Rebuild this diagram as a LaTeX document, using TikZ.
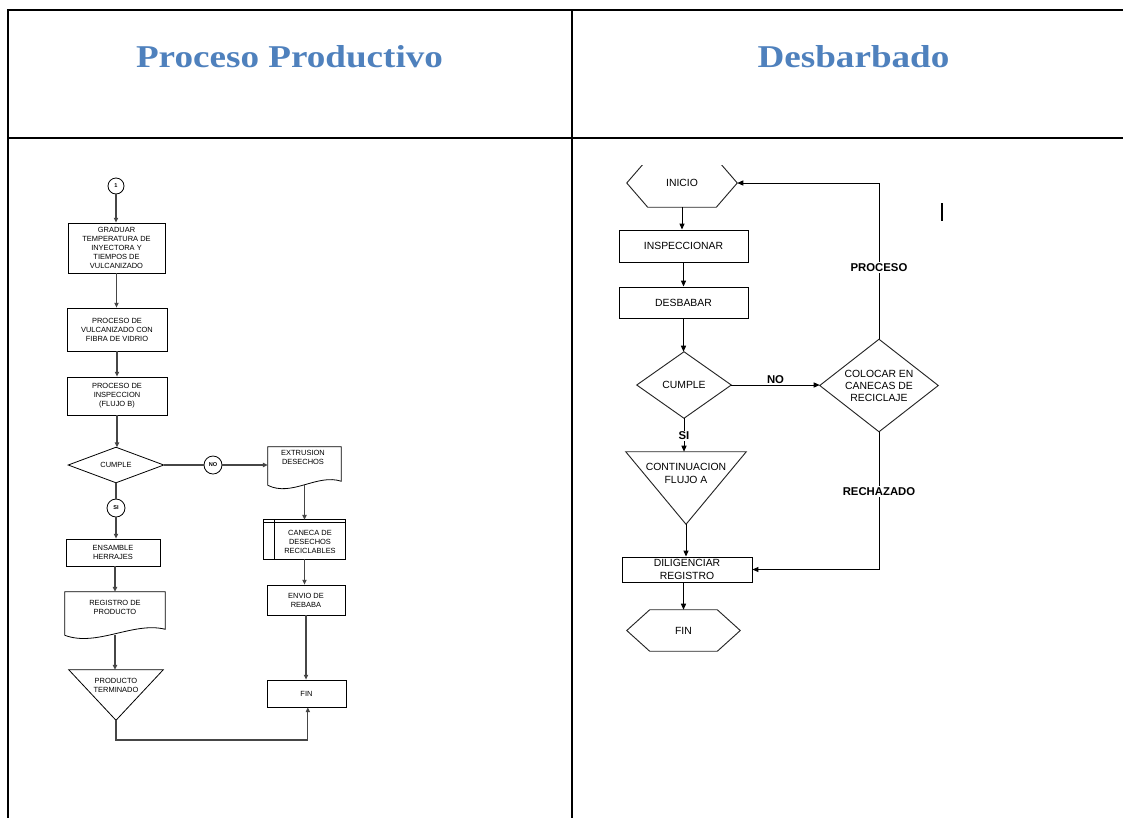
\documentclass[tikz,border=0pt]{standalone}
\usepackage{fontspec}
\setmainfont{Liberation Sans}
\newfontfamily\headfont{Liberation Serif}
\usetikzlibrary{arrows.meta,calc}
\definecolor{headblue}{RGB}{79,129,189}
\definecolor{linegray}{RGB}{70,70,70}
\begin{document}
\begin{tikzpicture}[x=0.75pt,y=-0.75pt,
  head/.style={inner sep=0pt,text=headblue,font=\headfont\bfseries\fontsize{23.8}{28}\selectfont},
  lfont/.style={font=\fontsize{5.6}{6.75}\selectfont},
  lbox/.style={rectangle,draw=black,line width=0.6pt,inner sep=0pt,align=center,lfont},
  lshape/.style={rectangle,inner sep=0pt,align=center,lfont},
  ltext/.style={inner sep=0pt,align=center,lfont},
  lcirc/.style={circle,draw=black,line width=0.6pt,inner sep=0pt,font=\fontsize{4.2}{5}\selectfont\bfseries},
  lshapeline/.style={draw=black,line width=0.6pt},
  lplain/.style={draw=linegray,line width=0.8pt},
  lconn/.style={draw=linegray,line width=0.8pt,-{Triangle[length=3.6pt,width=3.2pt]}},
  rfont/.style={font=\fontsize{7.8}{9.75}\selectfont},
  rbox/.style={rectangle,draw=black,line width=0.7pt,inner sep=0pt,align=center,rfont},
  rshape/.style={rectangle,inner sep=0pt,align=center,rfont},
  rtext/.style={inner sep=0pt,align=center,rfont},
  rshapeline/.style={draw=black!85,line width=0.7pt},
  rconn/.style={draw=black,line width=0.75pt,-{Triangle[length=4.5pt,width=3.8pt]}},
  rlabel/.style={inner sep=1pt,fill=white,font=\fontsize{8.5}{10}\selectfont\bfseries}]
\useasboundingbox (0,0) rectangle (1123,818);

% table frame
\draw[line width=2pt] (7,10) -- (1123,10);
\draw[line width=2pt] (7,138) -- (1123,138);
\draw[line width=2pt] (8,9) -- (8,818);
\draw[line width=1.6pt] (572,9) -- (572,818);

% column headings
\node[head] (h1) at (289.5,56.5) {\scalebox{1.17}[1]{Proceso Productivo}};
\node[head] (h2) at (853.5,56.5) {\scalebox{1.17}[1]{Desbarbado}};

% ---------------- Proceso Productivo ----------------
\node[lcirc,minimum size=12pt] (c1) at (116,186) {1};
\node[lbox,minimum width=72.75pt,minimum height=37.5pt] (b1) at (116.5,248)
  {GRADUAR\\TEMPERATURA DE\\INYECTORA Y\\TIEMPOS DE\\VULCANIZADO};
\node[lbox,minimum width=75pt,minimum height=32.25pt] (b2) at (117,329.5)
  {PROCESO DE\\VULCANIZADO CON\\FIBRA DE VIDRIO};
\node[lbox,minimum width=75pt,minimum height=28.5pt] (b3) at (117,396)
  {PROCESO DE\\INSPECCION\\(FLUJO B)};
\node[lshape,minimum width=71.25pt,minimum height=26.25pt] (d1) at (116,465) {CUMPLE};
\draw[lshapeline] (d1.north) -- (d1.east) -- (d1.south) -- (d1.west) -- cycle;
\node[lcirc,minimum size=13.5pt] (cno) at (213,465) {NO};
\node[lcirc,minimum size=13.5pt] (csi) at (116,508) {SI};

% document: extrusion
\node[lshape,minimum width=54.75pt,minimum height=28.5pt] (doc1) at (304.5,466) {};
\draw[lshapeline] (doc1.south west) -- (doc1.north west) -- (doc1.north east)
  -- ([shift={(0,-4)}]doc1.south east)
  .. controls ([shift={(-24,-12)}]doc1.south east) and ([shift={(24,12)}]doc1.south west) .. (doc1.south west);
\node[ltext] (doc1t) at (303,457.5) {EXTRUSION\\DESECHOS};

% predefined process: recycling bin
\node[lshape,minimum width=60.75pt,minimum height=29.25pt] (can) at (304.5,539.5) {};
\draw[lshapeline] (can.south west) rectangle (can.north east);
\draw[lshapeline] ([xshift=8.25pt]can.north west) -- ([xshift=8.25pt]can.south west);
\draw[lshapeline] ([yshift=-2.25pt]can.north west) -- ([yshift=-2.25pt]can.north east);
\node[ltext] (cant) at (310,542) {CANECA DE\\DESECHOS\\RECICLABLES};

\node[lbox,minimum width=58.5pt,minimum height=22.5pt] (env) at (306,600) {ENVIO DE\\REBABA};
\node[lbox,minimum width=59.25pt,minimum height=20.25pt] (fin1) at (306.5,693.5) {FIN};
\node[lbox,minimum width=70.5pt,minimum height=20.25pt] (ens) at (113,552.5) {ENSAMBLE\\HERRAJES};

% document: product record
\node[lshape,minimum width=75pt,minimum height=32.25pt] (doc2) at (115,613.5) {};
\draw[lshapeline] (doc2.south west) -- (doc2.north west) -- (doc2.north east)
  -- ([shift={(0,-6)}]doc2.south east)
  .. controls ([shift={(-32,-14)}]doc2.south east) and ([shift={(32,12)}]doc2.south west) .. (doc2.south west);
\node[ltext] (doc2t) at (115,607.5) {REGISTRO DE\\PRODUCTO};

% merge triangle
\node[lshape,minimum width=70.5pt,minimum height=37.5pt] (tri1) at (116,695) {};
\draw[lshapeline] (tri1.north west) -- (tri1.north east) -- (tri1.south) -- cycle;
\node[ltext] (tri1t) at (116,685.5) {PRODUCTO\\TERMINADO};
\coordinate (lbend) at (116,740);

% connectors
\draw[lconn] (c1.south) -- (c1.south |- b1.north);
\draw[lconn] (b1.south) -- (b1.south |- b2.north);
\draw[lconn] (b2.south) -- (b2.south |- b3.north);
\draw[lconn] (b3.south) -- (b3.south |- d1.north);
\draw[lplain] (d1.east) -- (cno.west);
\draw[lconn] (cno.east) -- (cno.east -| doc1.west);
\draw[lconn] (doc1.south) -- (doc1.south |- can.north);
\draw[lconn] (can.south) -- (can.south |- env.north);
\draw[lconn] (env.south) -- (env.south |- fin1.north);
\draw[lplain] (d1.south) -- (csi.north);
\draw[lconn] (csi.south) -- (csi.south |- ens.north);
\draw[lconn] (doc2.north |- ens.south) -- (doc2.north);
\draw[lconn] (doc2.south) -- (doc2.south |- tri1.north);
\draw[lconn] (tri1.south) -- (lbend) -| ([xshift=1pt]fin1.south);

% ---------------- Desbarbado ----------------
\node[rshape,minimum width=82.5pt,minimum height=36pt] (ini) at (682,183) {INICIO};
\begin{scope}
  \clip (600,165) rectangle (760,215);
  \draw[rshapeline] (ini.west) -- ([xshift=15.75pt]ini.north west) -- ([xshift=-15.75pt]ini.north east)
    -- (ini.east) -- ([xshift=-15.75pt]ini.south east) -- ([xshift=15.75pt]ini.south west) -- cycle;
\end{scope}
\node[rbox,minimum width=96.75pt,minimum height=24pt] (insp) at (683.5,246) {INSPECCIONAR};
\node[rbox,minimum width=96.75pt,minimum height=23.25pt] (desb) at (683.5,302.5) {DESBABAR};
\node[rshape,minimum width=70.5pt,minimum height=49.5pt] (d2) at (684,385) {CUMPLE};
\draw[rshapeline] (d2.north) -- (d2.east) -- (d2.south) -- (d2.west) -- cycle;
\node[rshape,minimum width=88.5pt,minimum height=69pt,font=\fontsize{7.8}{9}\selectfont] (d3) at (879,385.5)
  {COLOCAR EN\\CANECAS DE\\RECICLAJE};
\draw[rshapeline] (d3.north) -- (d3.east) -- (d3.south) -- (d3.west) -- cycle;
\node[rshape,minimum width=90pt,minimum height=54pt] (tri2) at (686,488) {};
\draw[rshapeline] (tri2.north west) -- (tri2.north east) -- (tri2.south) -- cycle;
\node[rtext] (tri2t) at (686,473.5) {CONTINUACION\\FLUJO A};
\node[rbox,minimum width=97.5pt,minimum height=18.75pt] (dil) at (687,569.5) {DILIGENCIAR\\REGISTRO};
\node[rshape,minimum width=84.75pt,minimum height=30.75pt] (fin2) at (683.5,630.5) {FIN};
\draw[rshapeline] (fin2.west) -- ([xshift=17.25pt]fin2.north west) -- ([xshift=-17.25pt]fin2.north east)
  -- (fin2.east) -- ([xshift=-17.25pt]fin2.south east) -- ([xshift=17.25pt]fin2.south west) -- cycle;

\draw[rconn] (ini.south) -- (ini.south |- insp.north);
\draw[rconn] (insp.south) -- (insp.south |- desb.north);
\draw[rconn] (desb.south) -- (desb.south |- d2.north);
\draw[rconn] (d2.east) -- node[rlabel,fill=none,above=-0.5pt] {NO} (d2.east -| d3.west);
\draw[rconn] (d3.north) -- node[rlabel,pos=0.46] {PROCESO} (d3.north |- ini.east) -- (ini.east);
\draw[rconn] (d3.south) -- node[rlabel,pos=0.435] {RECHAZADO} (d3.south |- dil.east) -- (dil.east);
\draw[rconn] (d2.south) -- node[rlabel,pos=0.53,inner sep=0.5pt] {SI} (d2.south |- tri2.north);
\draw[rconn] (tri2.south) -- (tri2.south |- dil.north);
\draw[rconn] (fin2.north |- dil.south) -- (fin2.north);

% text cursor mark
\draw[line width=0.9pt] (942,203) -- (942,221);
\end{tikzpicture}
\end{document}
